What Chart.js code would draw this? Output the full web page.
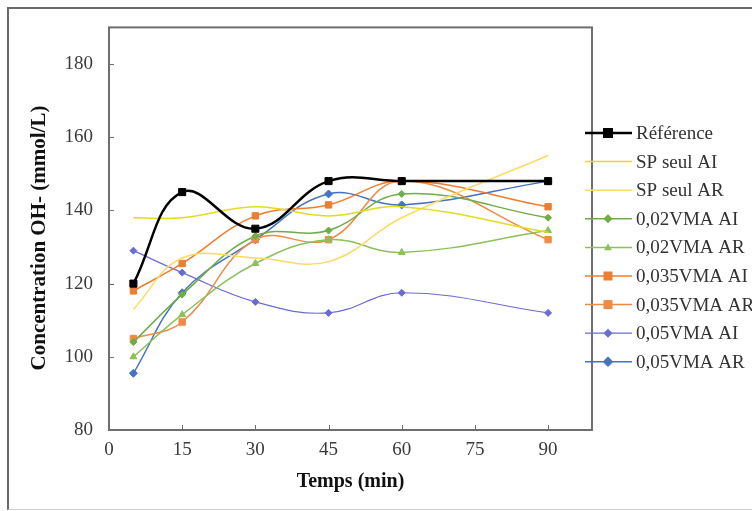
<!DOCTYPE html>
<html>
<head>
<meta charset="utf-8">
<script src="https://cdn.jsdelivr.net/npm/chart.js@4"></script>
<style>
  body { margin: 0; background: #fff; }
  #wrap { position: relative; width: 752px; height: 511px; overflow: hidden; }
  #frame { position: absolute; left: 7px; top: 7px; width: 760px; height: 500px;
           border-left: 2px solid #6a6a6a; border-top: 2px solid #6a6a6a; border-bottom: 1px solid #d0d0d0; }
  canvas { position: absolute; left: 0; top: 0; }
</style>
</head>
<body>
<div id="wrap">
  <div id="frame"></div>
  <canvas id="chart" width="752" height="511"></canvas>
</div>
<script>
const times = [5, 15, 30, 45, 60, 90];
const xTicks = [0, 15, 30, 45, 60, 75, 90];
const yTicks = [80, 100, 120, 140, 160, 180];

const reference = [120, 145, 135, 148, 148, 148];
const spSeulAI = [138, 138, 141, 138.5, 141, 134];
const spSeulAR = [113, 127, 127, 126, 138, 155];
const vma002AI = [104, 117, 133, 134.5, 144.5, 138];
const vma002AR = [100, 111.5, 125.5, 132, 128.5, 134.5];
const vma0035AI = [118, 125.5, 138.5, 141.5, 148, 141];
const vma0035AR = [105, 109.5, 132, 132, 148, 132];
const vma005AI = [129, 123, 115, 112, 117.5, 112];
const vma005AR = [95.5, 117.5, 132, 144.5, 141.5, 148];

const serif = "'Liberation Serif', 'Times New Roman', serif";

function series(label, values, color, width, style, radius) {
  return {
    label,
    data: times.map((t, i) => ({ x: t, y: values[i] })),
    borderColor: color,
    backgroundColor: color,
    borderWidth: width,
    pointStyle: style || false,
    pointRadius: style ? radius : 0,
    pointBorderWidth: 1,
    tension: 0.4,
    fill: false,
  };
}

const datasets = [
  series("Référence", reference, "#000000", 2.5, "rect", 5),
  series("SP seul AI", spSeulAI, "#e3dc1e", 1.5),
  series("SP seul AR", spSeulAR, "#ffd966", 1.5),
  series("0,02VMA AI", vma002AI, "#70ad47", 1.5, "rectRot", 3.5),
  series("0,02VMA AR", vma002AR, "#8cc05a", 1.5, "triangle", 4),
  series("0,035VMA AI", vma0035AI, "#ed7d31", 1.5, "rect", 4.5),
  series("0,035VMA AR", vma0035AR, "#f08a45", 1.5, "rect", 4.5),
  series("0,05VMA AI", vma005AI, "#6b6bd6", 1.2, "rectRot", 3.5),
  series("0,05VMA AR", vma005AR, "#4472c4", 1.5, "rectRot", 4),
];

function marker(ctx, style, x, y, r) {
  ctx.beginPath();
  if (style === "rect") {
    ctx.rect(x - r, y - r, 2 * r, 2 * r);
  } else if (style === "rectRot") {
    ctx.moveTo(x, y - r * 1.3); ctx.lineTo(x + r * 1.3, y); ctx.lineTo(x, y + r * 1.3); ctx.lineTo(x - r * 1.3, y);
    ctx.closePath();
  } else if (style === "triangle") {
    ctx.moveTo(x, y - r); ctx.lineTo(x + r, y + r * 0.7); ctx.lineTo(x - r, y + r * 0.7); ctx.closePath();
  } else {
    ctx.arc(x, y, r, 0, Math.PI * 2);
  }
  ctx.fill();
}

const decorations = {
  id: "decorations",
  beforeDatasetsDraw(chart) {
    const { ctx, chartArea: a, scales } = chart;
    ctx.save();
    ctx.strokeStyle = "#6e6e6e";
    ctx.lineWidth = 2;
    ctx.strokeRect(a.left, a.top, a.right - a.left, a.bottom - a.top);
    ctx.lineWidth = 1;
    scales.x.ticks.forEach((t) => {
      const px = Math.round(scales.x.getPixelForValue(t.value)) + 0.5;
      ctx.beginPath(); ctx.moveTo(px, a.bottom); ctx.lineTo(px, a.bottom - 5); ctx.stroke();
    });
    scales.y.ticks.forEach((t) => {
      const py = Math.round(scales.y.getPixelForValue(t.value)) + 0.5;
      ctx.beginPath(); ctx.moveTo(a.left, py); ctx.lineTo(a.left + 5, py); ctx.stroke();
    });
    ctx.restore();
  },
  afterDraw(chart) {
    const { ctx, chartArea: a } = chart;
    ctx.save();
    ctx.fillStyle = "#111";
    ctx.font = "bold 20px " + serif;
    ctx.textAlign = "center";
    ctx.textBaseline = "middle";
    ctx.fillText("Temps (min)", (a.left + a.right) / 2, 482);
    ctx.translate(40, 238);
    ctx.rotate(-Math.PI / 2);
    ctx.font = "bold 21px " + serif;
    ctx.fillText("Concentration OH- (mmol/L)", 0, 0);
    ctx.restore();

    // legend
    ctx.save();
    ctx.font = "19px " + serif;
    ctx.textBaseline = "middle";
    chart.data.datasets.forEach((ds, i) => {
      const y = 133 + i * 28.6;
      ctx.strokeStyle = ds.borderColor;
      ctx.lineWidth = ds.borderWidth;
      ctx.beginPath(); ctx.moveTo(585, y); ctx.lineTo(632, y); ctx.stroke();
      if (ds.pointStyle) {
        ctx.fillStyle = ds.backgroundColor;
        marker(ctx, ds.pointStyle, 608, y, ds.pointRadius);
      }
      ctx.fillStyle = "#333";
      ctx.fillText(ds.label, 636, y + 1);
    });
    ctx.restore();
  },
};

new Chart(document.getElementById("chart"), {
  type: "line",
  data: { datasets },
  options: {
    responsive: false,
    animation: false,
    layout: { padding: { left: 0, top: 23, right: 160, bottom: 0 } },
    plugins: { legend: { display: false }, tooltip: { enabled: false } },
    scales: {
      x: {
        type: "linear",
        min: 0,
        max: 99,
        grid: { display: false, drawTicks: false },
        border: { display: false },
        ticks: { stepSize: 15, padding: 9, color: "#3a3a3a", font: { family: serif, size: 19 } },
        afterBuildTicks: (s) => { s.ticks = xTicks.map((v) => ({ value: v })); },
        afterFit: (s) => { s.height = 81; },
      },
      y: {
        min: 80,
        max: 190,
        grid: { display: false, drawTicks: false },
        border: { display: false },
        ticks: { stepSize: 20, padding: 16, color: "#3a3a3a", font: { family: serif, size: 19 } },
        afterBuildTicks: (s) => { s.ticks = yTicks.map((v) => ({ value: v })); },
        afterFit: (s) => { s.width = 109; },
      },
    },
  },
  plugins: [decorations],
});
</script>
</body>
</html>
